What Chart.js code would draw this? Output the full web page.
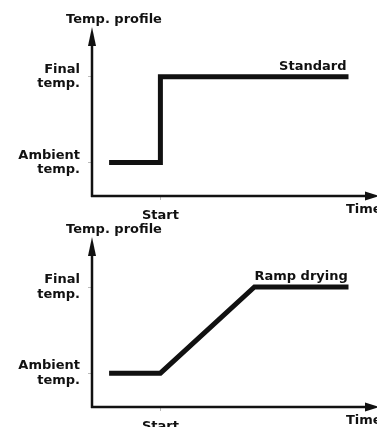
<!DOCTYPE html>
<html lang="en">
  <head>
    <meta charset="UTF-8" />
    <title>Drying temperature profiles</title>
    <script src="https://cdn.jsdelivr.net/npm/chart.js"></script>
    <style>
      body { margin: 0; background: #fff; overflow: hidden; }
      .wrap { position: relative; width: 377px; height: 427px; overflow: hidden; }
      canvas { position: absolute; left: 0; }
      #standardChart { top: 0; }
      #rampChart { top: 212px; }
    </style>
  </head>
  <body>
    <div class="wrap">
      <canvas id="standardChart" width="377" height="230"></canvas>
      <canvas id="rampChart" width="377" height="230"></canvas>
    </div>

    <script>
      // both axes run 0..100 in arbitrary units
      var standardTime = [6, 24, 24, 90];
      var standardTemp = [20, 20, 71, 71];
      var rampTime = [6, 24, 57, 90];
      var rampTemp = [20, 20, 71, 71];
      var tempTicks = [20, 71];
      var tempTickLabels = [['Ambient', 'temp.'], ['Final', 'temp.']];
      var timeTicks = [24];
      var timeTickLabels = ['Start'];

      var ink = '#111';
      var labelFont = '700 13px "DejaVu Sans"';

      Chart.defaults.font.family = '"DejaVu Sans"';
      Chart.defaults.font.weight = 'bold';
      Chart.defaults.font.size = 13;
      Chart.defaults.color = ink;

      // axis lines with arrow heads, plus the free text around the plot
      var profileAxes = {
        id: 'profileAxes',
        afterDraw: function (chart) {
          var a = chart.chartArea;
          var ctx = chart.ctx;
          var opts = chart.options.plugins.profileAxes;
          ctx.save();
          ctx.strokeStyle = ink;
          ctx.fillStyle = ink;
          ctx.lineWidth = 2.5;

          ctx.beginPath();
          ctx.moveTo(a.left, a.bottom + 1);
          ctx.lineTo(a.left, a.top + 10);
          ctx.stroke();
          ctx.beginPath();
          ctx.moveTo(a.left, a.top - 1);
          ctx.lineTo(a.left - 4, a.top + 18);
          ctx.lineTo(a.left + 4, a.top + 18);
          ctx.closePath();
          ctx.fill();

          ctx.beginPath();
          ctx.moveTo(a.left - 1, a.bottom);
          ctx.lineTo(a.right - 8, a.bottom);
          ctx.stroke();
          ctx.beginPath();
          ctx.moveTo(a.right + 2, a.bottom);
          ctx.lineTo(a.right - 12, a.bottom - 4.5);
          ctx.lineTo(a.right - 12, a.bottom + 4.5);
          ctx.closePath();
          ctx.fill();

          ctx.font = labelFont;
          ctx.textBaseline = 'alphabetic';
          ctx.textAlign = 'center';
          ctx.fillText('Temp. profile', a.left + 22, a.top - 5);

          ctx.textAlign = 'left';
          ctx.textBaseline = 'top';
          ctx.fillText('Time', a.right - 31, a.bottom + 7);

          var pt = chart.getDatasetMeta(0).data[opts.labelAt];
          ctx.textBaseline = 'alphabetic';
          ctx.textAlign = opts.align;
          ctx.fillText(chart.data.datasets[0].label, pt.x + (opts.align === 'right' ? -2 : 0), pt.y - 7);
          ctx.restore();
        }
      };

      function makeChart(id, times, temps, name, labelAt, align, topPad, axisHeight) {
        var points = times.map(function (t, i) { return { x: t, y: temps[i] }; });
        return new Chart(document.getElementById(id), {
          type: 'line',
          data: {
            datasets: [{
              label: name,
              data: points,
              borderColor: ink,
              borderWidth: 5,
              borderJoinStyle: 'miter',
              borderCapStyle: 'butt',
              pointRadius: 0,
              tension: 0,
              fill: false
            }]
          },
          options: {
            responsive: false,
            animation: false,
            events: [],
            layout: { padding: { top: topPad, left: 0, right: 0, bottom: 0 } },
            plugins: {
              legend: { display: false },
              tooltip: { enabled: false },
              profileAxes: { labelAt: labelAt, align: align }
            },
            scales: {
              x: {
                type: 'linear',
                min: 0,
                max: 100,
                afterBuildTicks: function (s) {
                  s.ticks = timeTicks.map(function (v) { return { value: v }; });
                },
                afterFit: function (s) { s.height = axisHeight; },
                ticks: {
                  autoSkip: false,
                  maxRotation: 0,
                  padding: 8,
                  callback: function (v) { return timeTickLabels[timeTicks.indexOf(v)]; }
                },
                grid: { drawOnChartArea: false, tickLength: 4, color: '#bbb' },
                border: { display: false }
              },
              y: {
                min: 0,
                max: 100,
                afterBuildTicks: function (s) {
                  s.ticks = tempTicks.map(function (v) { return { value: v }; });
                },
                afterFit: function (s) { s.width = 92; },
                ticks: {
                  autoSkip: false,
                  padding: 8,
                  font: { lineHeight: 1.1 },
                  callback: function (v) { return tempTickLabels[tempTicks.indexOf(v)]; }
                },
                grid: { drawOnChartArea: false, tickLength: 4, color: '#bbb' },
                border: { display: false }
              }
            }
          },
          plugins: [profileAxes]
        });
      }

      makeChart('standardChart', standardTime, standardTemp, 'Standard', 3, 'right', 28, 34);
      makeChart('rampChart', rampTime, rampTemp, 'Ramp drying', 2, 'left', 26, 35);
    </script>
  </body>
</html>
